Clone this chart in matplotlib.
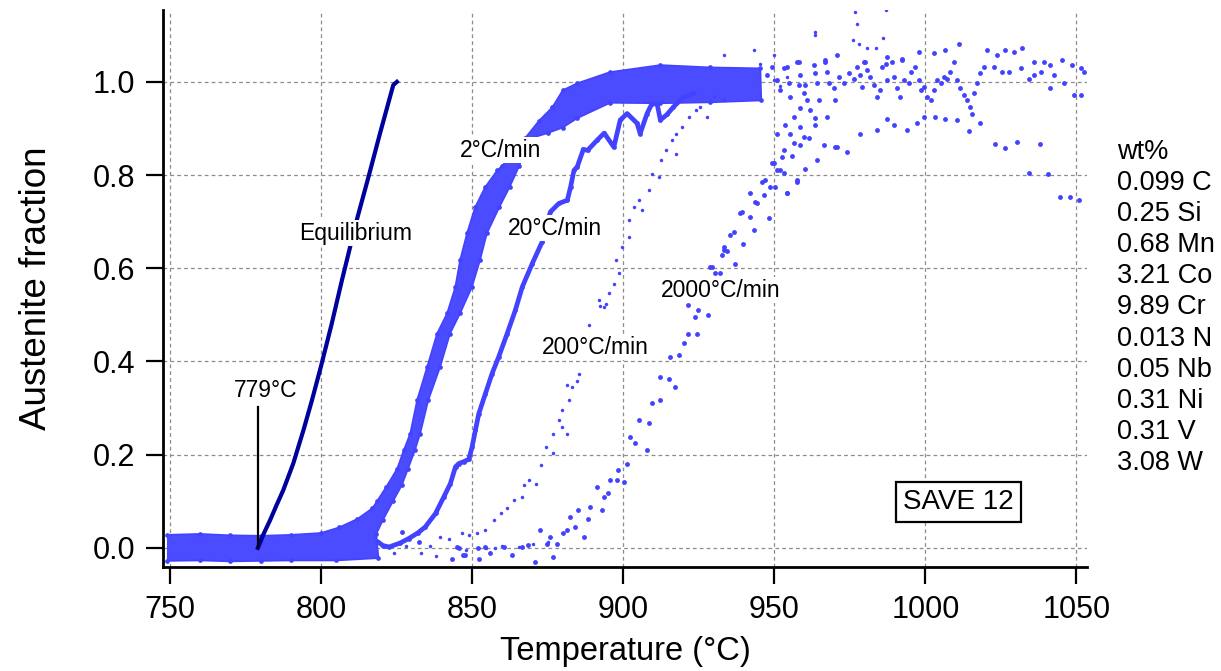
import matplotlib
matplotlib.use("Agg")
import matplotlib.pyplot as plt

plt.rcParams['font.family'] = ['Liberation Sans', 'DejaVu Sans']

# equilibrium curve
eq_t = [779.1, 781, 783.1, 785.3, 787.5, 790.8, 794.2, 797, 800, 803.5, 806.9, 811.8, 815.7, 819.5, 823.9, 825.1]
eq_f = [0, 0.03, 0.059, 0.092, 0.124, 0.181, 0.253, 0.317, 0.39, 0.48, 0.574, 0.703, 0.796, 0.889, 0.993, 1.0]

# 2 C/min: dense band, outline (upper/left edge then lower/right edge)
band2_t = [749, 760, 770, 780, 790, 800, 806, 812, 817, 818.5, 821.5, 825.2, 827.4, 829.5, 831.8, 835.1,
           838.4, 841.7, 844.4, 846, 848.3, 851, 854.3, 858.3, 860, 863.5, 867.5, 872.2, 876.5, 880,
           884.8, 895.7, 912.3, 928.8, 945.4,
           945.7, 928.8, 912.3, 895.7, 884.8, 880, 875, 869, 865.6, 862.4, 859, 854.9, 852.6, 849.9,
           846, 842.7, 839.4, 835.5, 832.8, 831.1, 828.8, 826.7, 823.8, 820.5, 818.3, 819, 805, 790,
           780, 770, 760, 749]
band2_f = [0.028, 0.030, 0.027, 0.026, 0.028, 0.032, 0.044, 0.062, 0.085, 0.10, 0.13, 0.17, 0.21, 0.245,
           0.317, 0.388, 0.46, 0.503, 0.559, 0.617, 0.675, 0.731, 0.774, 0.81, 0.82, 0.85, 0.879, 0.917,
           0.945, 0.982, 0.997, 1.021, 1.036, 1.031, 1.029,
           0.96, 0.956, 0.954, 0.955, 0.922, 0.902, 0.89, 0.878, 0.82, 0.774, 0.731, 0.675, 0.617, 0.559,
           0.503, 0.46, 0.388, 0.317, 0.245, 0.21, 0.17, 0.134, 0.10, 0.06, 0.03, -0.022, -0.027, -0.027,
           -0.028, -0.029, -0.027, -0.028]

# 20 C/min
t20 = [819, 820.5, 822.5, 826, 829, 832, 834.5, 837.9, 840.6, 842.8, 844.5, 845.6, 847.2, 848.9, 850.0,
       851.1, 852.2, 854.4, 856.6, 858.8, 861.6, 864.3, 866.6, 869.9, 873.2, 875.9, 878.7, 881.5, 882.6,
       883.7, 884.8, 886.8, 888.2, 891.4, 893.7, 896.9, 899.0, 901.3, 904.6, 905.6, 907.9, 909.5, 911.2,
       912.3, 914.5, 916.6, 919.9, 923.2]
f20 = [0.012, 0.005, 0.002, 0.01, 0.02, 0.032, 0.045, 0.074, 0.109, 0.138, 0.174, 0.181, 0.185, 0.19,
       0.217, 0.253, 0.288, 0.331, 0.374, 0.41, 0.46, 0.51, 0.56, 0.61, 0.657, 0.721, 0.739, 0.746, 0.775,
       0.81, 0.818, 0.855, 0.853, 0.875, 0.89, 0.86, 0.918, 0.932, 0.911, 0.889, 0.932, 0.953, 0.953,
       0.918, 0.93, 0.946, 0.967, 0.975]

# 200 C/min
t200 = [839.5, 842.3, 846.7, 849.0, 851.7, 854.4, 857.2, 859.4, 861.6, 863.8, 866.6, 867.2, 868.8, 871.0,
        872.7, 874.4, 876.6, 876.6, 878.8, 879.9, 881.5, 879.9, 882.1, 883.2, 881.5, 884.8, 885.4, 888.6,
        892.2, 894.4, 892.0, 893.6, 895.3, 896.9, 897.5, 898.6, 899.7, 901.9, 901.9, 903.6, 905.3, 906.3,
        908.5, 909.6, 911.8, 912.4, 914.0, 916.3, 917.4, 919.6, 921.8, 924.0, 917.4, 925.5, 929.9, 927.7,
        933.2, 933.2, 943.2, 949.8, 945.4, 949.8, 952.0, 954.2, 963.6, 963.6, 976.8, 977.4, 986.8, 986.0,
        976.1, 977.9, 980.7, 983.5, 854.5, 857.7, 865.4, 848.0, 860.0, 870.0, 875.0,
        824.0, 828.0, 833.0, 836.0, 838.0]
f200 = [0.024, 0.020, 0.031, 0.028, 0.031, 0.038, 0.059, 0.074, 0.085, 0.102, 0.110, 0.135, 0.145, 0.138,
        0.177, 0.217, 0.203, 0.245, 0.274, 0.260, 0.245, 0.295, 0.317, 0.346, 0.349, 0.359, 0.374, 0.478,
        0.518, 0.524, 0.531, 0.517, 0.546, 0.567, 0.617, 0.589, 0.646, 0.667, 0.703, 0.732, 0.746, 0.724,
        0.768, 0.803, 0.796, 0.832, 0.853, 0.875, 0.889, 0.904, 0.925, 0.939, 0.846, 0.946, 0.968, 0.925,
        0.961, 1.057, 1.068, 1.057, 1.039, 1.004, 0.990, 1.011, 1.107, 1.100, 1.150, 1.125, 1.154, 1.093,
        1.089, 1.082, 1.072, 1.072, 0.0, 0.0, 0.002, -0.005, 0.004, 0.008, 0.012,
        -0.010, 0.005, -0.012, 0.004, -0.018]

# 2000 C/min
t2000 = [826.8, 832.3, 843.3, 845.6, 847.8, 852.2, 844.9, 847.1, 852.1, 854.3, 855.9, 860.4, 863.1, 866.4,
         868.6, 870.8, 872.5, 874.7, 875.8, 876.9, 878.0, 880.2, 881.3, 882.4, 884.1, 885.2, 886.9, 888.5,
         889.1, 891.3, 892.9, 893.5, 895.1, 895.7, 897.9, 898.4, 900.1, 901.2, 902.3, 904.0, 905.1, 907.8,
         908.4, 909.5, 912.2, 912.2, 915.0, 917.2, 915.6, 918.3, 920.0, 921.6, 924.4, 923.8, 924.9, 928.2,
         921.6, 928.8, 932.1, 933.2, 936.5, 938.7, 942.0, 943.2, 939.8, 944.3, 947.0, 946.5, 949.8, 950.3,
         952.0, 953.1, 954.2, 955.3, 956.4, 957.5, 956.4, 935.4, 939.3, 942.1, 943.7, 945.9, 948.1, 948.7,
         949.2, 950.9, 952.5, 958.6, 958.6, 959.7, 961.4, 963.6, 933.2, 934.3, 929.4, 930.5, 937.1, 932.7,
         # high temperature tail
         950.9, 953.7, 958.6, 961.9, 963.6, 967.5, 970.8, 974.1, 978.5, 984.0, 987.3, 989.5, 993.9, 997.3,
         999.5, 1003.3, 1006.6, 1010.5, 1014.4, 1018.2, 1023.2, 1026.5, 1030.4, 1034.2, 1037.8, 1040.6,
         1044.5, 1047.7, 1050.7, 953.1, 954.2, 955.9, 957.5, 960.3, 964.1, 966.3, 970.2,
         # plateau cloud
         947.6, 950.9, 952.0, 949.2, 953.1, 954.2, 954.8, 955.3, 957.5, 958.1, 958.6, 959.7, 960.3, 960.8,
         963.0, 963.6, 964.1, 964.7, 966.9, 967.5, 968.0, 969.7, 970.2, 971.3, 973.0, 974.6, 976.3, 977.4,
         978.5, 979.0, 980.1, 980.7, 981.8, 982.9, 984.0, 985.1, 985.7, 986.8, 987.3, 989.0, 989.5, 990.6,
         991.7, 992.3, 992.8, 994.5, 995.1, 996.7, 997.8, 998.4, 999.5, 1000.6, 1001.7, 1002.8, 1003.9,
         1005.0, 1006.1, 1007.2, 1008.3, 1009.4, 1010.5, 1011.6, 1012.7, 1013.8, 1014.9, 1015.5, 1016.0,
         1017.1, 1018.2, 1019.3, 1020.4, 1022.6, 1023.7, 1025.4, 1026.5, 1029.3, 1031.5, 1032.0, 1034.2,
         1035.9, 1038.1, 1039.2, 1041.4, 1042.5, 1045.3, 1045.8, 1048.6, 1051.4, 1052.5, 1049.1, 1051.4,
         1041.4, 1035.9, 1027.6, 1011.1, 1006.6, 1002.8, 997.8, 992.3, 987.3, 979.6, 970.8, 966.9, 958.1]
f2000 = [0.034, 0.013, -0.023, -0.001, -0.016, -0.023, 0.002, -0.016, -0.001, 0.002, -0.012, 0.002, -0.016,
         0.002, 0.006, -0.030, 0.038, 0.009, 0.024, -0.019, 0.009, 0.031, 0.038, 0.067, 0.045, 0.081, 0.024,
         0.063, 0.088, 0.131, 0.081, 0.110, 0.117, 0.145, 0.145, 0.167, 0.142, 0.181, 0.238, 0.224, 0.274,
         0.210, 0.267, 0.310, 0.317, 0.367, 0.363, 0.346, 0.410, 0.413, 0.439, 0.460, 0.460, 0.496, 0.510,
         0.499, 0.521, 0.603, 0.589, 0.639, 0.678, 0.718, 0.710, 0.682, 0.653, 0.739, 0.789, 0.757, 0.825,
         0.775, 0.810, 0.853, 0.761, 0.889, 0.925, 0.789, 0.868, 0.671, 0.721, 0.761, 0.743, 0.786, 0.707,
         0.775, 0.825, 0.811, 0.839, 0.864, 0.904, 0.882, 0.879, 0.922, 0.646, 0.636, 0.603, 0.589, 0.610,
         0.628,
         0.889, 0.907, 0.943, 0.939, 0.907, 0.925, 0.861, 0.850, 0.889, 0.896, 0.921, 0.907, 0.896, 0.911,
         0.925, 0.925, 0.921, 0.918, 0.894, 0.912, 0.866, 0.859, 0.871, 0.805, 0.866, 0.803, 0.753, 0.752,
         0.746, 0.804, 0.761, 0.841, 0.786, 0.814, 0.832, 0.864, 0.861,
         1.014, 1.004, 0.982, 1.032, 1.029, 1.032, 0.997, 0.968, 1.043, 0.993, 1.014, 0.975, 0.993, 0.961,
         1.036, 1.018, 0.997, 0.961, 1.043, 1.022, 0.997, 0.986, 0.961, 1.011, 0.997, 1.018, 1.007, 1.032,
         1.014, 0.989, 1.043, 1.025, 1.011, 0.993, 0.968, 0.982, 1.032, 1.039, 1.004, 1.043, 1.011, 0.986,
         0.968, 1.047, 1.004, 0.997, 1.022, 1.032, 1.004, 0.982, 0.989, 0.968, 0.961, 0.982, 1.004, 0.997,
         1.011, 1.007, 1.022, 1.043, 1.004, 0.986, 0.972, 0.961, 0.946, 0.932, 0.975, 0.997, 1.018, 1.032,
         1.068, 1.032, 1.057, 1.022, 1.068, 1.064, 1.029, 1.072, 1.007, 1.043, 1.022, 1.043, 0.986, 1.014,
         1.047, 0.997, 1.036, 1.029, 1.022, 0.972, 0.972, 1.036, 1.014, 1.022, 1.082, 1.068, 1.061, 1.064,
         1.050, 1.054, 1.043, 1.057, 1.047, 1.043]

composition = ['wt%', '0.099 C', '0.25 Si', '0.68 Mn', '3.21 Co', '9.89 Cr', '0.013 N',
               '0.05 Nb', '0.31 Ni', '0.31 V', '3.08 W']

blue = '#4343ff'

fig = plt.figure(figsize=(12.21, 6.71), dpi=100)
ax = fig.add_axes([0.1335, 0.155, 0.7568, 0.830])

# dense band of the 2 C/min data
ax.fill(band2_t, band2_f, facecolor='#4b4bff', lw=0, zorder=2)
ax.plot(band2_t, band2_f, '-', color=blue, lw=1.2, zorder=2)
ax.plot(band2_t, band2_f, 'o', color=blue, ms=3.4, mew=0, zorder=2)

ax.plot(t20, f20, '-', color=blue, lw=3.4, zorder=3)
ax.plot(t20, f20, 'o', color=blue, ms=3.4, mew=0, zorder=3)
ax.plot(t200, f200, 'o', color=blue, ms=2.5, mew=0, zorder=3)
ax.plot(t2000, f2000, 'o', color=blue, ms=3.5, mew=0, zorder=3)
ax.plot(eq_t, eq_f, '-', color='#00009c', lw=3.0, zorder=4)
ax.plot([779, 779], [0, 0.302], '-', color='black', lw=1.6, zorder=4)

lab = dict(fontsize=16.5, ha='center', va='center', zorder=5,
           bbox=dict(facecolor='white', edgecolor='none', pad=1))
ax.text(811.3, 0.675, 'Equilibrium', **lab)
ax.text(859.5, 0.853, '2°C/min', **lab)
ax.text(877.5, 0.686, '20°C/min', **lab)
ax.text(890.7, 0.430, '200°C/min', **lab)
ax.text(932.1, 0.553, '2000°C/min', **lab)
ax.text(781.8, 0.338, '779°C', fontsize=16.5, ha='center', va='center', zorder=5)
ax.text(1010.9, 0.098, 'SAVE 12', fontsize=20, ha='center', va='center', zorder=5,
        bbox=dict(facecolor='white', edgecolor='black', lw=1.6, boxstyle='square,pad=0.25'))

for i, line in enumerate(composition):
    fig.text(1117 / 1221, 1 - (152 + 31.1 * i) / 671, line, fontsize=19.5, ha='left', va='center')

ax.set_xlim(747.7, 1053.5)
ax.set_ylim(-0.041, 1.154)
ax.set_xticks([750, 800, 850, 900, 950, 1000, 1050])
ax.set_yticks([0.0, 0.2, 0.4, 0.6, 0.8, 1.0])
ax.set_yticklabels(['0.0', '0.2', '0.4', '0.6', '0.8', '1.0'])
ax.grid(True, color='#8c8c8c', lw=0.9, linestyle=(0, (3, 2.5)))
ax.set_axisbelow(True)
for s in ['top', 'right']:
    ax.spines[s].set_visible(False)
for s in ['left', 'bottom']:
    ax.spines[s].set_linewidth(2)
ax.tick_params(length=12, width=1.6, labelsize=22, pad=8)
ax.set_xlabel('Temperature (°C)', fontsize=23.5, labelpad=8)
ax.set_ylabel('Austenite fraction', fontsize=26.5, labelpad=28)

fig.savefig('out.png', dpi=100)
